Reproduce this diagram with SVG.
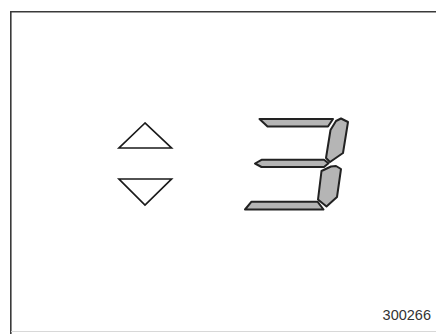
<svg xmlns="http://www.w3.org/2000/svg" width="436" height="334" viewBox="0 0 436 334">
<style>
.frame{fill:none;stroke:#3a3a3a;stroke-width:1.6}
.tri{fill:#fff;stroke:#1a1a1a;stroke-width:1.7;stroke-linejoin:miter}
.seg{fill:#b5b5b5;stroke:#222;stroke-width:2;stroke-linejoin:round}
.lbl{font-family:"Liberation Sans",Arial,sans-serif;font-size:14.5px;fill:#333}
</style>
<rect width="436" height="334" fill="#fff"/>
<path class="frame" d="M10.8,334 V11.8 H436"/>
<line x1="11" y1="331.5" x2="436" y2="331.5" stroke="#d8d8d8" stroke-width="1"/>
<g id="arrow-up">
<polygon class="tri" points="145,123 119,148 171.5,148"/>
</g>
<g id="arrow-down">
<polygon class="tri" points="119,179 171.5,179 145,205"/>
</g>
<g id="digit-3">
<polygon class="seg" points="259.5,119 333,119 328,126.5 267.5,126.5"/>
<polygon class="seg" points="336,121 341,118.5 348,122 343,153 330,162 326,158 330.5,130"/>
<polygon class="seg" points="255,163.5 261.5,159.8 324,159.8 328.5,163.3 324,167 261.5,167"/>
<polygon class="seg" points="331,166.5 336,166 341,169 337,197 326.5,206.5 318,199.5 321.5,171"/>
<polygon class="seg" points="251.5,201.7 317.5,201.7 323.5,209.5 245,209.5"/>
</g>
<text class="lbl" x="431" y="319.5" text-anchor="end">300266</text>
</svg>
